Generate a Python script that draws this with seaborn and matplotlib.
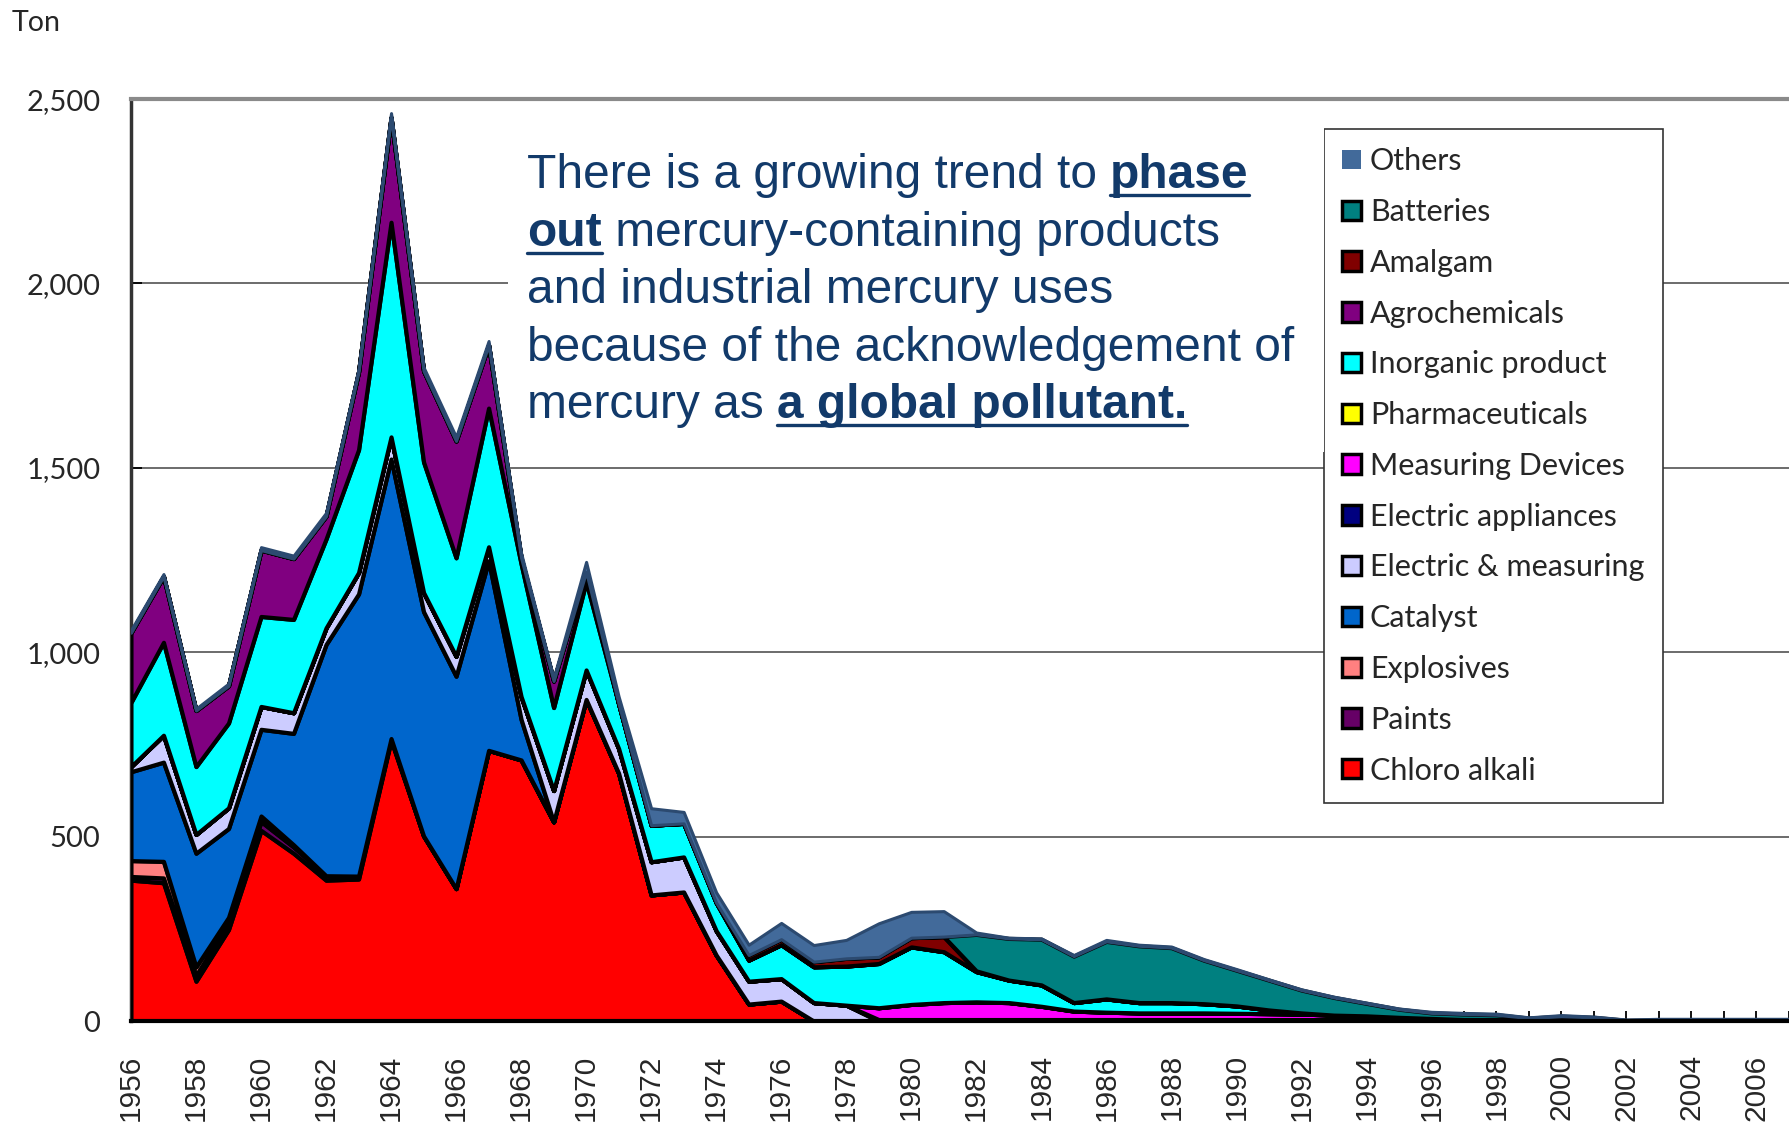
#importing libraries
import numpy as np
import pandas as pd
import seaborn as sns
import matplotlib as mpl
import matplotlib.pyplot as plt
from matplotlib.patches import Patch, Rectangle
from matplotlib.lines import Line2D
from matplotlib.ticker import FuncFormatter

#data (tons per year)
years = list(range(1956, 2008))

chloro_alkali = [382, 375, 108, 248, 517, 455, 382, 385, 761, 502, 359, 734, 708, 540, 872,
                 672, 342, 350, 179, 46, 54] + [0] * 31
paints = [10, 13, 16, 17, 24, 17, 12, 8, 5] + [0] * 43
explosives = [43, 45, 23, 16, 15, 6] + [0] * 46
catalyst = [241, 269, 308, 241, 235, 302, 627, 765, 758, 608, 576, 514, 110] + [0] * 39
electric_measuring = [14, 73, 51, 56, 62, 56, 45, 58, 60, 52, 54, 38, 62, 85, 80, 67, 90, 95,
                      66, 62, 61, 50, 43] + [0] * 29
electric_appliances = [0] * 23 + [4] * 20 + [3] * 3 + [1] * 6
measuring_devices = [0] * 23 + [32, 41, 46, 48, 46, 36, 23, 20, 18, 18, 18, 17, 16, 15, 12,
                                10, 6, 3] + [0] * 11
pharmaceuticals = [0] * 52
inorganic = [174, 252, 184, 230, 244, 253, 241, 333, 582, 354, 267, 376, 360, 225, 239, 121,
             99, 91, 76, 57, 92, 97, 106, 120, 156, 138, 82, 61, 58, 23, 36, 28, 28, 25, 20,
             10, 3] + [0] * 15
agrochemicals = [189, 179, 152, 101, 180, 165, 62, 211, 284, 247, 317, 171, 16, 72, 27] + [0] * 37
amalgam = [0] * 19 + [14, 15, 14, 21, 18, 25, 41, 2] + [0] * 25
batteries = [0] * 26 + [99, 113, 124, 126, 156, 154, 149, 118, 97, 81, 62, 48, 34, 22, 15, 15,
                        13, 5, 10, 7, 1, 2, 2, 2, 2, 2]
others = [7, 6, 5, 6, 8, 8, 9, 8, 12, 10, 11, 11, 13, 8, 27, 20, 46, 31, 28, 28,
          44, 45, 50, 91, 70, 69, 5, 2, 2, 3, 4, 3, 3, 3, 3, 2, 2, 2, 2, 2,
          3, 3, 3, 2, 3, 2, 2, 3, 3, 3, 3, 3]

labels = ['Chloro alkali', 'Paints', 'Explosives', 'Catalyst', 'Electric & measuring',
          'Electric appliances', 'Measuring Devices', 'Pharmaceuticals', 'Inorganic product',
          'Agrochemicals', 'Amalgam', 'Batteries', 'Others']
colors = ['#FF0000', '#660066', '#FF8080', '#0066CC', '#CCCCFF', '#000080', '#FF00FF',
          '#FFFF00', '#00FFFF', '#800080', '#800000', '#008080', '#426A9A']

df = pd.DataFrame({
    'Chloro alkali': chloro_alkali, 'Paints': paints, 'Explosives': explosives,
    'Catalyst': catalyst, 'Electric & measuring': electric_measuring,
    'Electric appliances': electric_appliances, 'Measuring Devices': measuring_devices,
    'Pharmaceuticals': pharmaceuticals, 'Inorganic product': inorganic,
    'Agrochemicals': agrochemicals, 'Amalgam': amalgam, 'Batteries': batteries,
    'Others': others}, index=years)

#style
sns.set_theme(style='white')
plt.rcParams['font.family'] = ['Lato', 'DejaVu Sans']

fig = plt.figure(figsize=(17.89, 11.22), dpi=100)
ax = fig.add_axes([0.0732, 0.09, 0.9268, 0.8217])

polys = ax.stackplot(df.index, *[df[c] for c in labels], colors=colors,
                     edgecolor='black', linewidth=3, zorder=3)
polys[-1].set_edgecolor('#2C4A70')
polys[-1].set_linewidth(2.2)

ax.set_xlim(1956, 2006.8)
ax.set_ylim(0, 2500)
ax.set_yticks(range(0, 2501, 500))
ax.yaxis.set_major_formatter(FuncFormatter(lambda v, p: f'{int(v):,}'))
ax.set_xticks(years)
ax.set_xticklabels([str(y) if y % 2 == 0 else '' for y in years], rotation=90,
                   family='Liberation Sans', fontsize=21.5)
for t in ax.get_yticklabels():
    t.set_fontsize(21)
ax.tick_params(axis='x', direction='in', length=7, width=1.3, color='black', pad=24,
               bottom=True)
ax.tick_params(axis='y', direction='in', length=8, width=1.3, color='black', pad=22,
               left=True)

ax.yaxis.grid(True, color='#444444', linewidth=1.1)
ax.set_axisbelow(True)
ax.spines['right'].set_visible(False)
ax.spines['top'].set_color('#8A8A8A')
ax.spines['top'].set_linewidth(3)
ax.spines['left'].set_color('#333333')
ax.spines['left'].set_linewidth(2.5)
ax.spines['bottom'].set_color('black')
ax.spines['bottom'].set_linewidth(3)
ax.spines['bottom'].set_zorder(5)

fig.text(12 / 1789, 1 - 23 / 1122, 'Ton', fontsize=20.5, va='center', ha='left')

#white box behind the message
fig.add_artist(Rectangle((508 / 1789, 1 - 452 / 1122), (1324 - 508) / 1789, (452 - 114) / 1122,
                         transform=fig.transFigure, facecolor='white', edgecolor='none',
                         zorder=1))

#legend
handles = []
for lab, col in zip(labels[::-1], colors[::-1]):
    if lab == 'Others':
        handles.append(Patch(facecolor=col, edgecolor='none', label=lab))
    else:
        handles.append(Patch(facecolor=col, edgecolor='black', linewidth=2.5, label=lab))
leg = ax.legend(handles=handles, loc='upper left', bbox_to_anchor=(1324 / 1789, 1 - 129 / 1122),
                bbox_transform=fig.transFigure, fontsize=22, frameon=True, fancybox=False,
                edgecolor='#333333', framealpha=1, handlelength=0.6, handleheight=0.6,
                handletextpad=0.3, labelspacing=0.745, borderpad=0.6, borderaxespad=0)
leg.get_frame().set_linewidth(1.2)
leg.set_zorder(6)

#message text with bold underlined parts
fig.canvas.draw()
renderer = fig.canvas.get_renderer()
ident = mpl.transforms.IdentityTransform()
txt_color = '#123A6A'
fs = 34.5


def seg_width(s, weight):
    t1 = fig.text(0, 0, '|' + s + '|', fontsize=fs, family='Liberation Sans', weight=weight,
                  transform=ident)
    t2 = fig.text(0, 0, '||', fontsize=fs, family='Liberation Sans', weight=weight,
                  transform=ident)
    w = t1.get_window_extent(renderer).width - t2.get_window_extent(renderer).width
    t1.remove()
    t2.remove()
    return w


lines = [
    [('There is a growing trend to ', False), ('phase', True)],
    [('out', True), (' mercury-containing products', False)],
    [('and industrial mercury uses', False)],
    [('because of the acknowledgement of', False)],
    [('mercury as ', False), ('a global pollutant.', True)],
]
baselines = [188, 246, 303, 361, 418]

for parts, yb in zip(lines, baselines):
    x = 527
    y = 1122 - yb
    for s, bold in parts:
        weight = 'bold' if bold else 'normal'
        fig.text(x, y, s, fontsize=fs, family='Liberation Sans', weight=weight,
                 color=txt_color, ha='left', va='baseline', transform=ident, zorder=7)
        w = seg_width(s, weight)
        if bold:
            fig.add_artist(Line2D([x, x + w], [y - 7, y - 7], color=txt_color, linewidth=2.4,
                                  transform=ident, zorder=7))
        x += w

plt.savefig('out.png', dpi=100)
